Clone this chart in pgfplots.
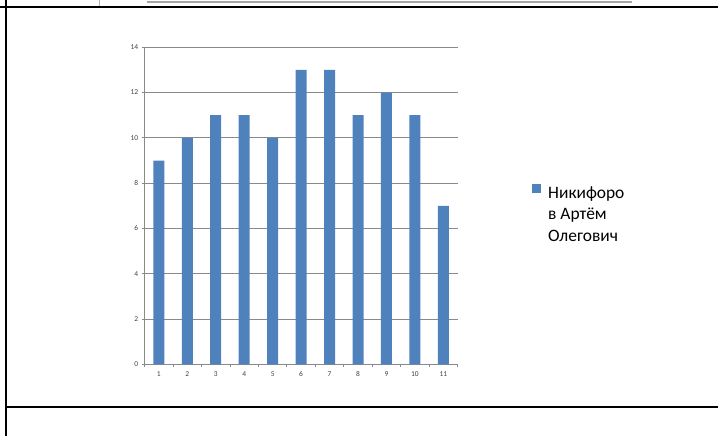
\documentclass[border=0pt]{standalone}
\usepackage{fontspec}
\setmainfont{Carlito}
\usepackage{pgfplots}
\pgfplotsset{compat=1.18}
\definecolor{barblue}{HTML}{4F81BD}
\definecolor{gridgray}{HTML}{898989}
\begin{document}
\begin{tikzpicture}[x=1bp,y=1bp]
\useasboundingbox (0,0) rectangle (718,436);
% page decorations (table frame, fragment of chart above)
\draw[gray!70, line width=0.6bp] (147,434.8) -- (632,434.8);
\draw[gray!70, line width=0.6bp] (147,433.2) -- (632,433.2);
\draw[gray!60, line width=0.8bp] (99,429) -- (99,436);
\draw[black, line width=1.7bp] (0,429.3) -- (718,429.3);
\draw[black, line width=1.7bp] (5.7,0) -- (5.7,436);
\draw[black, line width=1.7bp] (5.7,28.7) -- (718,28.7);
\begin{axis}[
  at={(144.6bp,71.7bp)}, anchor=south west,
  scale only axis, width=313bp, height=317bp,
  xmin=0.5, xmax=11.5, ymin=0, ymax=14,
  axis lines*=left,
  x axis line style={-, gridgray, line width=0.8bp},
  y axis line style={-, gridgray, line width=0.8bp},
  xtick={1,...,11},
  ytick={0,2,...,14},
  minor xtick={0.5,1.5,...,11.5},
  minor ytick={0,2,...,14},
  major tick length=0pt,
  minor tick length=3bp,
  tick align=outside,
  tick style={gridgray, line width=0.8bp},
  ymajorgrids,
  grid style={gridgray, line width=0.8bp},
  /pgf/number format/assume math mode=true,
  ticklabel style={font=\fontsize{7.5}{9}\selectfont, text=black!75},
  xticklabel style={yshift=-4bp},
  yticklabel style={xshift=-3bp},
  ybar, bar width=11bp,
  legend style={at={(axis description cs:1.2377,0.4726)}, anchor=west, draw=none,
    fill=none, inner sep=0pt, cells={align=left},
    font=\fontsize{17.5}{21.5}\selectfont},
  legend image code/.code={\fill[barblue] (0bp,21.6bp) rectangle (9bp,30bp); \path (14bp,0bp);},
]
\addplot[fill=barblue, draw=none] coordinates {
(1,9) (2,10) (3,11) (4,11) (5,10) (6,13) (7,13) (8,11) (9,12) (10,11) (11,7)
};
\addlegendentry{Никифоро\\в Артём\\Олегович}
\end{axis}
\end{tikzpicture}
\end{document}
